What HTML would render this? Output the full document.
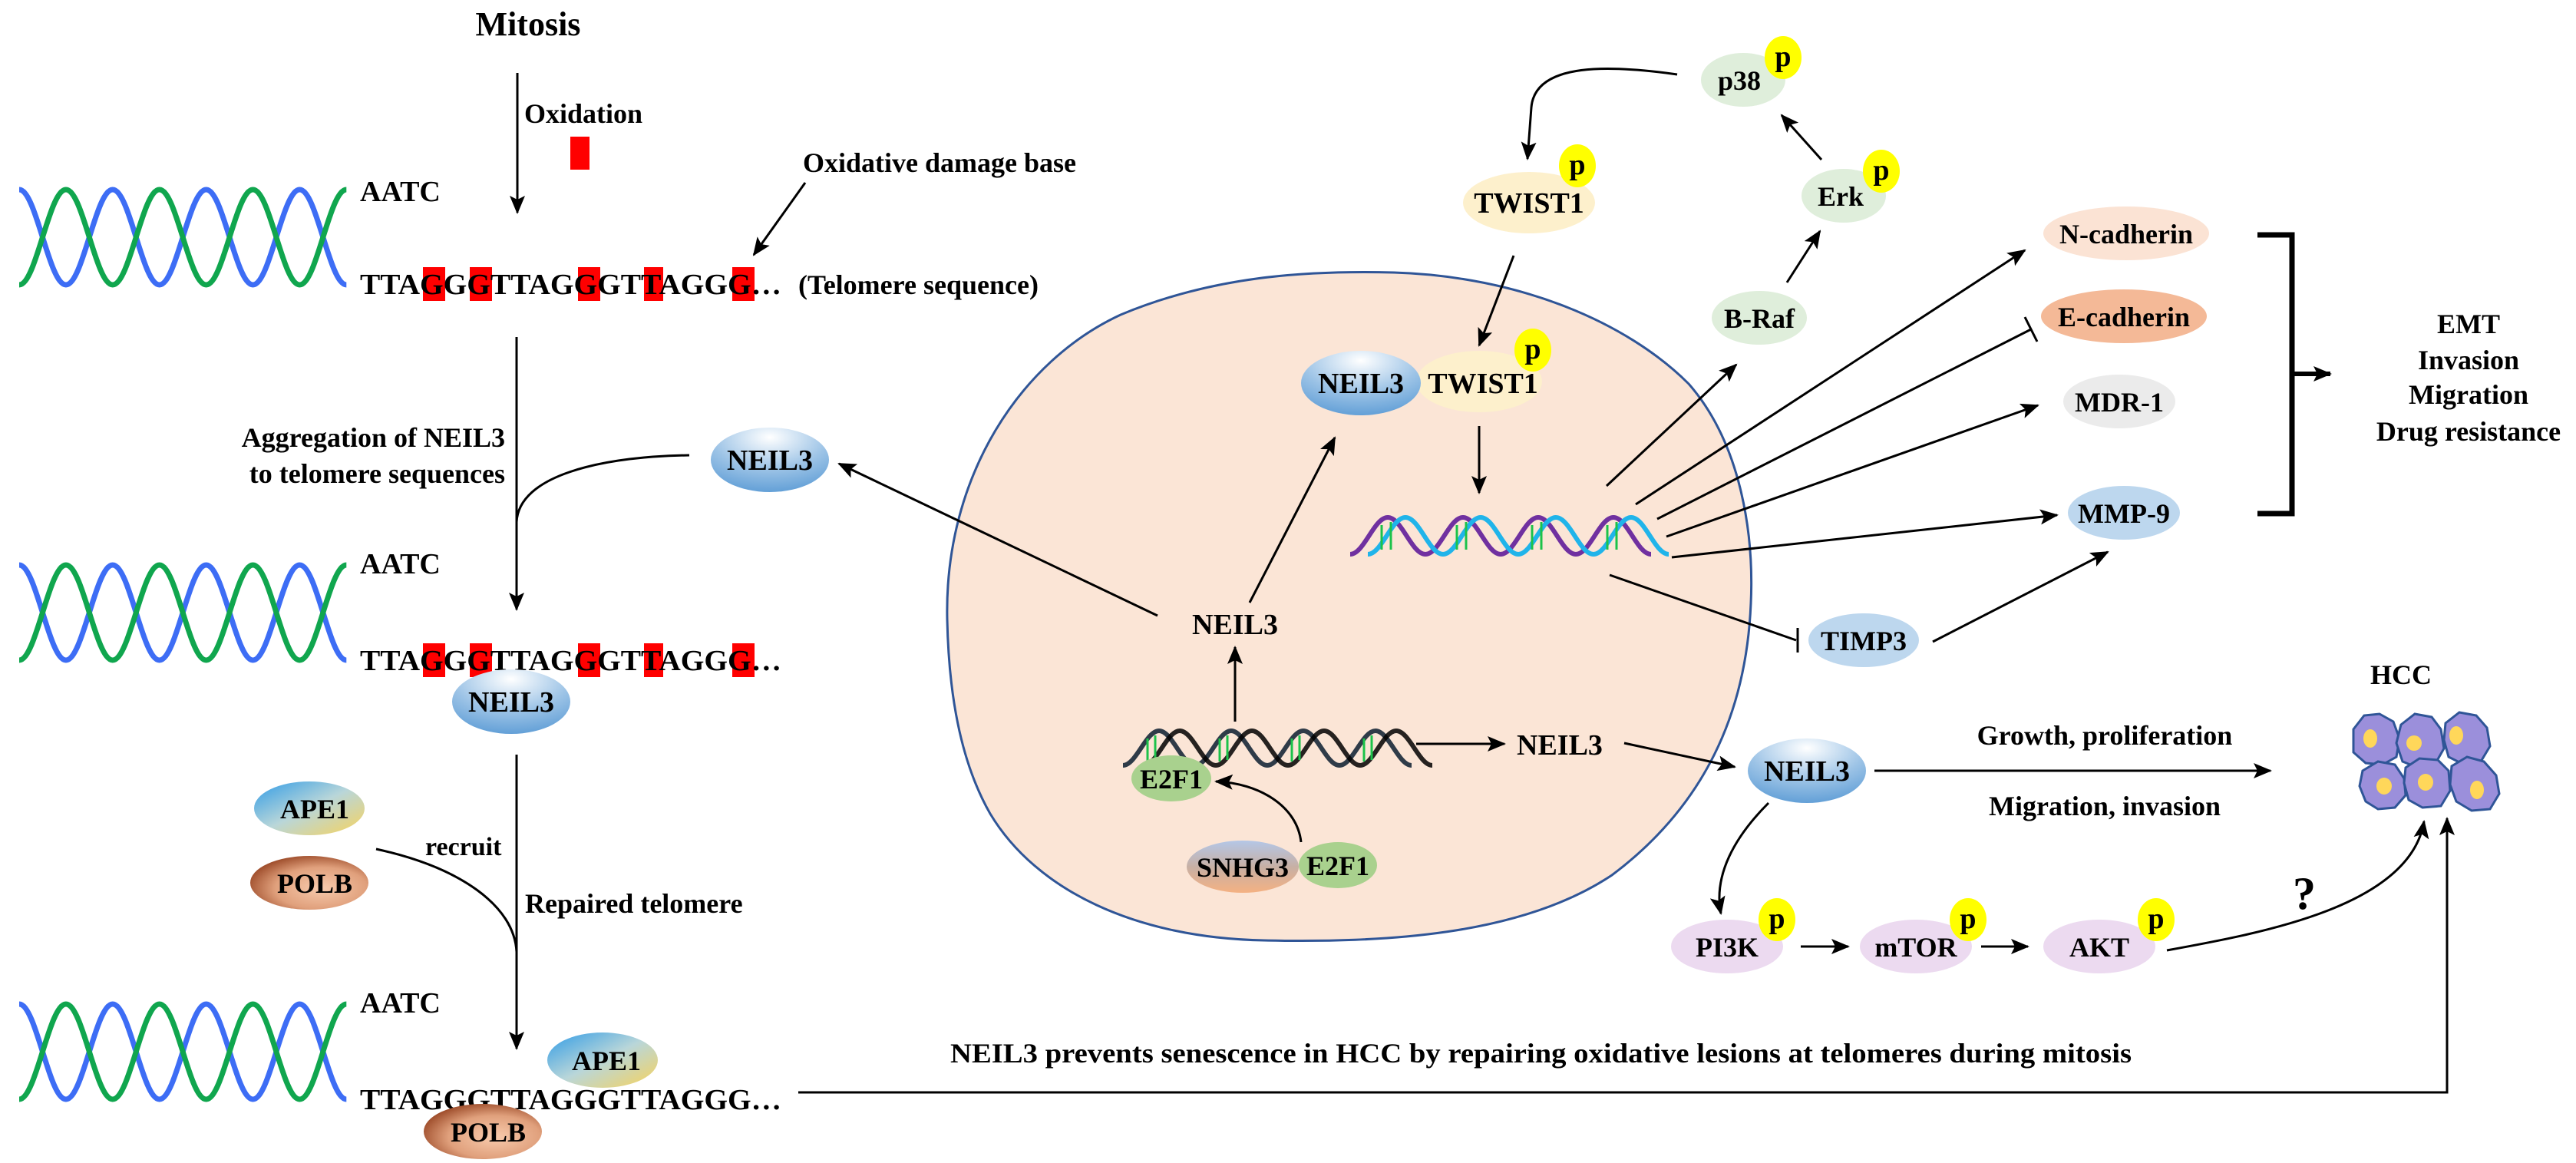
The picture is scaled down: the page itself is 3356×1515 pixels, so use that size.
<!DOCTYPE html>
<html><head><meta charset="utf-8"><style>
html,body{margin:0;padding:0;background:#fff;}
svg{display:block;}
text{font-family:"Liberation Serif",serif;font-weight:bold;fill:#000;}
</style></head><body>
<svg width="3356" height="1515" viewBox="0 0 3356 1515" xmlns="http://www.w3.org/2000/svg">
<defs>
<marker id="a" viewBox="0 0 24 20" refX="22" refY="10" markerWidth="24" markerHeight="20" markerUnits="userSpaceOnUse" orient="auto"><path d="M0,0 L24,10 L0,20 L5,10 z" fill="#000"/></marker>
<radialGradient id="gN" cx="0.5" cy="0.15" r="0.9"><stop offset="0" stop-color="#ffffff"/><stop offset="0.55" stop-color="#9cc3e6"/><stop offset="1" stop-color="#5b9bd5"/></radialGradient>
<linearGradient id="gA" x1="0" y1="0" x2="1" y2="1"><stop offset="0" stop-color="#2f9be6"/><stop offset="0.5" stop-color="#b9d6d9"/><stop offset="1" stop-color="#f8d35a"/></linearGradient>
<radialGradient id="gP" cx="0.6" cy="0.6" r="0.65"><stop offset="0" stop-color="#f8cbad"/><stop offset="0.6" stop-color="#e0a07c"/><stop offset="1" stop-color="#9c4a28"/></radialGradient>
<linearGradient id="gS" x1="0" y1="0" x2="0" y2="1"><stop offset="0" stop-color="#b4c7e7"/><stop offset="0.5" stop-color="#c7b0a5"/><stop offset="1" stop-color="#f4b183"/></linearGradient>
</defs>

<!-- ============ LEFT COLUMN ============ -->
<text x="688" y="46" font-size="44" text-anchor="middle">Mitosis</text>
<line x1="674" y1="95" x2="674" y2="277" stroke="#000" stroke-width="3" marker-end="url(#a)"/>
<text x="683" y="160" font-size="36">Oxidation</text>
<rect x="743" y="178" width="25" height="43" fill="#ff0000"/>
<text x="1046" y="224" font-size="36">Oxidative damage base</text>
<line x1="1049" y1="238" x2="982" y2="332" stroke="#000" stroke-width="3" marker-end="url(#a)"/>

<g fill="none" stroke-width="7">
<path stroke="#3d6df5" d="M25,247 c22.2,0 38.7,124 60.9,124 c22.2,0 38.7,-124 60.9,-124 c22.2,0 38.7,124 60.9,124 c22.2,0 38.7,-124 60.9,-124 c22.2,0 38.7,124 60.9,124 c22.2,0 38.7,-124 60.9,-124 c22.2,0 38.7,124 60.9,124"/>
<path stroke="#10a64e" d="M25,371 c22.2,0 38.7,-124 60.9,-124 c22.2,0 38.7,124 60.9,124 c22.2,0 38.7,-124 60.9,-124 c22.2,0 38.7,124 60.9,124 c22.2,0 38.7,-124 60.9,-124 c22.2,0 38.7,124 60.9,124 c22.2,0 38.7,-124 60.9,-124"/>
</g>
<text x="469" y="262" font-size="38">AATC</text>
<g fill="#ff0000">
<rect x="551" y="348" width="29" height="44"/><rect x="612" y="348" width="29" height="44"/><rect x="753" y="348" width="29" height="44"/><rect x="839" y="348" width="25" height="44"/><rect x="954" y="348" width="29" height="44"/>
</g>
<text x="469" y="383" font-size="38" textLength="549" lengthAdjust="spacingAndGlyphs">TTAGGGTTAGGGTTAGGG…</text>
<text x="1040" y="383" font-size="36">(Telomere sequence)</text>

<line x1="673" y1="439" x2="673" y2="794" stroke="#000" stroke-width="3" marker-end="url(#a)"/>
<text x="658" y="582" font-size="36" text-anchor="end">Aggregation of NEIL3</text>
<text x="658" y="629" font-size="36" text-anchor="end">to telomere sequences</text>
<path d="M898,593 C780,595 676,620 673,680" fill="none" stroke="#000" stroke-width="3"/>
<ellipse cx="1003" cy="599" rx="77" ry="42" fill="url(#gN)"/>
<text x="1003" y="612" font-size="38" text-anchor="middle">NEIL3</text>

<g fill="none" stroke-width="7">
<path stroke="#3d6df5" d="M25,736 c22.2,0 38.7,124 60.9,124 c22.2,0 38.7,-124 60.9,-124 c22.2,0 38.7,124 60.9,124 c22.2,0 38.7,-124 60.9,-124 c22.2,0 38.7,124 60.9,124 c22.2,0 38.7,-124 60.9,-124 c22.2,0 38.7,124 60.9,124"/>
<path stroke="#10a64e" d="M25,860 c22.2,0 38.7,-124 60.9,-124 c22.2,0 38.7,124 60.9,124 c22.2,0 38.7,-124 60.9,-124 c22.2,0 38.7,124 60.9,124 c22.2,0 38.7,-124 60.9,-124 c22.2,0 38.7,124 60.9,124 c22.2,0 38.7,-124 60.9,-124"/>
</g>
<text x="469" y="747" font-size="38">AATC</text>
<g fill="#ff0000">
<rect x="551" y="838" width="29" height="44"/><rect x="612" y="838" width="29" height="44"/><rect x="753" y="838" width="29" height="44"/><rect x="839" y="838" width="25" height="44"/><rect x="954" y="838" width="29" height="44"/>
</g>
<text x="469" y="873" font-size="38" textLength="549" lengthAdjust="spacingAndGlyphs">TTAGGGTTAGGGTTAGGG…</text>
<ellipse cx="666" cy="914" rx="77" ry="42" fill="url(#gN)"/>
<text x="666" y="927" font-size="38" text-anchor="middle">NEIL3</text>

<line x1="673" y1="983" x2="673" y2="1366" stroke="#000" stroke-width="3" marker-end="url(#a)"/>
<ellipse cx="403" cy="1053" rx="72" ry="35" fill="url(#gA)"/>
<text x="410" y="1066" font-size="36" text-anchor="middle">APE1</text>
<ellipse cx="403" cy="1150" rx="77" ry="35" fill="url(#gP)"/>
<text x="410" y="1163" font-size="36" text-anchor="middle">POLB</text>
<text x="554" y="1114" font-size="34">recruit</text>
<path d="M490,1106 C600,1130 670,1180 673,1240" fill="none" stroke="#000" stroke-width="3"/>
<text x="684" y="1189" font-size="36">Repaired telomere</text>

<g fill="none" stroke-width="7">
<path stroke="#3d6df5" d="M25,1308 c22.2,0 38.7,124 60.9,124 c22.2,0 38.7,-124 60.9,-124 c22.2,0 38.7,124 60.9,124 c22.2,0 38.7,-124 60.9,-124 c22.2,0 38.7,124 60.9,124 c22.2,0 38.7,-124 60.9,-124 c22.2,0 38.7,124 60.9,124"/>
<path stroke="#10a64e" d="M25,1432 c22.2,0 38.7,-124 60.9,-124 c22.2,0 38.7,124 60.9,124 c22.2,0 38.7,-124 60.9,-124 c22.2,0 38.7,124 60.9,124 c22.2,0 38.7,-124 60.9,-124 c22.2,0 38.7,124 60.9,124 c22.2,0 38.7,-124 60.9,-124"/>
</g>
<text x="469" y="1319" font-size="38">AATC</text>
<text x="469" y="1445" font-size="38" textLength="549" lengthAdjust="spacingAndGlyphs">TTAGGGTTAGGGTTAGGG…</text>
<ellipse cx="785" cy="1381" rx="72" ry="36" fill="url(#gA)"/>
<text x="790" y="1394" font-size="36" text-anchor="middle">APE1</text>
<ellipse cx="629" cy="1474" rx="77" ry="36" fill="url(#gP)"/>
<text x="636" y="1487" font-size="36" text-anchor="middle">POLB</text>

<polyline points="1040,1423 3188,1423 3188,1066" fill="none" stroke="#000" stroke-width="3" marker-end="url(#a)"/>
<text x="1238" y="1384" font-size="36" textLength="1539" lengthAdjust="spacingAndGlyphs">NEIL3 prevents senescence in HCC by repairing oxidative lesions at telomeres during mitosis</text>

<!-- ============ CELL ============ -->
<path d="M1234,807 C1230,620 1330,470 1460,410 C1580,360 1700,352 1816,355 C1980,360 2120,420 2200,500 C2270,580 2285,700 2281,786 C2275,930 2220,1050 2100,1140 C1980,1220 1800,1228 1647,1225 C1480,1222 1350,1160 1290,1060 C1250,990 1236,900 1234,807Z" fill="#fbe5d6" stroke="#2f5597" stroke-width="3"/>

<line x1="1508" y1="802" x2="1093" y2="604" stroke="#000" stroke-width="3" marker-end="url(#a)"/>
<line x1="1628" y1="785" x2="1739" y2="570" stroke="#000" stroke-width="3" marker-end="url(#a)"/>
<text x="1609" y="826" font-size="38" text-anchor="middle">NEIL3</text>
<line x1="1609" y1="940" x2="1609" y2="843" stroke="#000" stroke-width="3" marker-end="url(#a)"/>

<g fill="none" stroke-width="6">
<path stroke="#2f3b48" d="M1463,997 c17,0 30,-45 47,-45 c17,0 30,45 47,45 c17,0 30,-45 47,-45 c17,0 30,45 47,45 c17,0 30,-45 47,-45 c17,0 30,45 47,45 c17,0 30,-45 47,-45 c17,0 30,45 47,45"/>
<path stroke="#000" d="M1490,997 c17,0 30,-45 47,-45 c17,0 30,45 47,45 c17,0 30,-45 47,-45 c17,0 30,45 47,45 c17,0 30,-45 47,-45 c17,0 30,45 47,45 c17,0 30,-45 47,-45 c17,0 30,45 47,45" opacity="0.85"/>
</g>
<g stroke="#1cc24a" stroke-width="3">
<line x1="1495" y1="962" x2="1495" y2="992"/><line x1="1505" y1="958" x2="1505" y2="990"/><line x1="1589" y1="962" x2="1589" y2="992"/><line x1="1599" y1="958" x2="1599" y2="990"/><line x1="1683" y1="962" x2="1683" y2="992"/><line x1="1693" y1="958" x2="1693" y2="990"/><line x1="1777" y1="962" x2="1777" y2="992"/><line x1="1787" y1="958" x2="1787" y2="990"/>
</g>
<ellipse cx="1526" cy="1014" rx="52" ry="30" fill="#a9d18e"/>
<text x="1526" y="1027" font-size="36" text-anchor="middle">E2F1</text>
<line x1="1845" y1="969" x2="1960" y2="969" stroke="#000" stroke-width="3" marker-end="url(#a)"/>
<text x="1976" y="983" font-size="38">NEIL3</text>
<line x1="2116" y1="968" x2="2260" y2="999" stroke="#000" stroke-width="3" marker-end="url(#a)"/>
<path d="M1695,1097 C1690,1050 1640,1020 1584,1018" fill="none" stroke="#000" stroke-width="3" marker-end="url(#a)"/>
<ellipse cx="1619" cy="1129" rx="73" ry="34" fill="url(#gS)"/>
<text x="1619" y="1142" font-size="36" text-anchor="middle">SNHG3</text>
<ellipse cx="1743" cy="1127" rx="51" ry="30" fill="#a9d18e"/>
<text x="1743" y="1140" font-size="36" text-anchor="middle">E2F1</text>

<ellipse cx="1927" cy="497" rx="82" ry="40" fill="#fdf0cc"/>
<ellipse cx="1773" cy="499" rx="78" ry="42" fill="url(#gN)"/>
<text x="1773" y="512" font-size="38" text-anchor="middle">NEIL3</text>
<text x="1932" y="512" font-size="38" text-anchor="middle">TWIST1</text>
<ellipse cx="1997" cy="456" rx="24" ry="28" fill="#ffff00"/>
<text x="1997" y="467" font-size="38" text-anchor="middle">p</text>
<line x1="1927" y1="555" x2="1927" y2="642" stroke="#000" stroke-width="3" marker-end="url(#a)"/>

<g fill="none" stroke-width="6">
<path stroke="#7030a0" d="M1759,722 c18,0 31,-48 49,-48 c18,0 31,48 49,48 c18,0 31,-48 49,-48 c18,0 31,48 49,48 c18,0 31,-48 49,-48 c18,0 31,48 49,48 c18,0 31,-48 49,-48 c18,0 31,48 49,48"/>
<path stroke="#20b4ea" d="M1782,722 c18,0 31,-48 49,-48 c18,0 31,48 49,48 c18,0 31,-48 49,-48 c18,0 31,48 49,48 c18,0 31,-48 49,-48 c18,0 31,48 49,48 c18,0 31,-48 49,-48 c18,0 31,48 49,48"/>
</g>
<g stroke="#1cc24a" stroke-width="3">
<line x1="1800" y1="684" x2="1800" y2="716"/><line x1="1812" y1="680" x2="1812" y2="716"/><line x1="1898" y1="684" x2="1898" y2="716"/><line x1="1910" y1="680" x2="1910" y2="716"/><line x1="1996" y1="684" x2="1996" y2="716"/><line x1="2008" y1="680" x2="2008" y2="716"/><line x1="2094" y1="684" x2="2094" y2="716"/><line x1="2106" y1="680" x2="2106" y2="716"/>
</g>

<ellipse cx="1992" cy="264" rx="86" ry="40" fill="#fdf0cc"/>
<text x="1992" y="277" font-size="38" text-anchor="middle">TWIST1</text>
<ellipse cx="2055" cy="216" rx="24" ry="28" fill="#ffff00"/>
<text x="2055" y="227" font-size="38" text-anchor="middle">p</text>
<path d="M2185,97 C2100,85 2000,80 1995,140 L1990,207" fill="none" stroke="#000" stroke-width="3" marker-end="url(#a)"/>
<line x1="1972" y1="333" x2="1927" y2="450" stroke="#000" stroke-width="3" marker-end="url(#a)"/>

<ellipse cx="2271" cy="104" rx="55" ry="35" fill="#dfeedb"/>
<text x="2266" y="117" font-size="36" text-anchor="middle">p38</text>
<ellipse cx="2323" cy="75" rx="24" ry="28" fill="#ffff00"/>
<text x="2323" y="86" font-size="38" text-anchor="middle">p</text>
<line x1="2373" y1="208" x2="2321" y2="150" stroke="#000" stroke-width="3" marker-end="url(#a)"/>
<ellipse cx="2402" cy="255" rx="55" ry="35" fill="#dfeedb"/>
<text x="2398" y="268" font-size="36" text-anchor="middle">Erk</text>
<ellipse cx="2451" cy="223" rx="24" ry="28" fill="#ffff00"/>
<text x="2451" y="234" font-size="38" text-anchor="middle">p</text>
<line x1="2328" y1="368" x2="2371" y2="301" stroke="#000" stroke-width="3" marker-end="url(#a)"/>
<ellipse cx="2292" cy="414" rx="62" ry="35" fill="#dfeedb"/>
<text x="2292" y="427" font-size="36" text-anchor="middle">B-Raf</text>

<line x1="2093" y1="633" x2="2262" y2="475" stroke="#000" stroke-width="3" marker-end="url(#a)"/>
<line x1="2131" y1="657" x2="2638" y2="326" stroke="#000" stroke-width="3" marker-end="url(#a)"/>
<line x1="2159" y1="676" x2="2646" y2="429" stroke="#000" stroke-width="3"/>
<line x1="2638" y1="413" x2="2654" y2="445" stroke="#000" stroke-width="3"/>
<line x1="2171" y1="699" x2="2655" y2="528" stroke="#000" stroke-width="3" marker-end="url(#a)"/>
<line x1="2178" y1="726" x2="2680" y2="671" stroke="#000" stroke-width="3" marker-end="url(#a)"/>
<line x1="2097" y1="749" x2="2340" y2="834" stroke="#000" stroke-width="3"/>
<line x1="2342" y1="818" x2="2342" y2="850" stroke="#000" stroke-width="3"/>

<ellipse cx="2770" cy="304" rx="108" ry="35" fill="#fbe3d4"/>
<text x="2770" y="317" font-size="36" text-anchor="middle">N-cadherin</text>
<ellipse cx="2767" cy="412" rx="108" ry="35" fill="#f4b997"/>
<text x="2767" y="425" font-size="36" text-anchor="middle">E-cadherin</text>
<ellipse cx="2761" cy="523" rx="73" ry="35" fill="#ebebeb"/>
<text x="2761" y="536" font-size="36" text-anchor="middle">MDR-1</text>
<ellipse cx="2767" cy="668" rx="73" ry="35" fill="#bdd7ee"/>
<text x="2767" y="681" font-size="36" text-anchor="middle">MMP-9</text>

<polyline points="2941,306 2986,306 2986,669 2941,669" fill="none" stroke="#000" stroke-width="7"/>
<line x1="2986" y1="487" x2="3036" y2="487" stroke="#000" stroke-width="6" marker-end="url(#a)"/>
<text x="3216" y="434" font-size="36" text-anchor="middle">EMT</text>
<text x="3216" y="481" font-size="36" text-anchor="middle">Invasion</text>
<text x="3216" y="526" font-size="36" text-anchor="middle">Migration</text>
<text x="3216" y="574" font-size="36" text-anchor="middle">Drug resistance</text>

<ellipse cx="2428" cy="834" rx="72" ry="35" fill="#bdd7ee"/>
<text x="2428" y="847" font-size="36" text-anchor="middle">TIMP3</text>
<line x1="2518" y1="836" x2="2746" y2="719" stroke="#000" stroke-width="3" marker-end="url(#a)"/>

<ellipse cx="2354" cy="1004" rx="77" ry="42" fill="url(#gN)"/>
<text x="2354" y="1017" font-size="38" text-anchor="middle">NEIL3</text>
<line x1="2442" y1="1004" x2="2958" y2="1004" stroke="#000" stroke-width="3" marker-end="url(#a)"/>
<text x="2742" y="970" font-size="36" text-anchor="middle">Growth, proliferation</text>
<text x="2742" y="1062" font-size="36" text-anchor="middle">Migration, invasion</text>
<path d="M2304,1046 C2260,1090 2232,1140 2242,1190" fill="none" stroke="#000" stroke-width="3" marker-end="url(#a)"/>

<ellipse cx="2250" cy="1233" rx="73" ry="35" fill="#ecdaf0"/>
<text x="2250" y="1246" font-size="36" text-anchor="middle">PI3K</text>
<ellipse cx="2315" cy="1198" rx="24" ry="28" fill="#ffff00"/>
<text x="2315" y="1209" font-size="38" text-anchor="middle">p</text>
<line x1="2346" y1="1233" x2="2408" y2="1233" stroke="#000" stroke-width="3" marker-end="url(#a)"/>
<ellipse cx="2496" cy="1233" rx="73" ry="35" fill="#ecdaf0"/>
<text x="2496" y="1246" font-size="36" text-anchor="middle">mTOR</text>
<ellipse cx="2564" cy="1198" rx="24" ry="28" fill="#ffff00"/>
<text x="2564" y="1209" font-size="38" text-anchor="middle">p</text>
<line x1="2581" y1="1233" x2="2642" y2="1233" stroke="#000" stroke-width="3" marker-end="url(#a)"/>
<ellipse cx="2735" cy="1233" rx="73" ry="35" fill="#ecdaf0"/>
<text x="2735" y="1246" font-size="36" text-anchor="middle">AKT</text>
<ellipse cx="2809" cy="1198" rx="24" ry="28" fill="#ffff00"/>
<text x="2809" y="1209" font-size="38" text-anchor="middle">p</text>
<path d="M2823,1238 C2950,1215 3140,1180 3158,1070" fill="none" stroke="#000" stroke-width="3" marker-end="url(#a)"/>
<text x="3002" y="1184" font-size="60" text-anchor="middle">?</text>

<text x="3128" y="891" font-size="36" text-anchor="middle">HCC</text>
<g stroke="#2f5597" stroke-width="3" fill="#9b8fdb">
<path d="M3066,950 L3080,932 L3100,930 L3118,940 L3126,962 L3122,986 L3104,996 L3082,994 L3066,980 Z"/>
<path d="M3128,944 L3146,930 L3168,934 L3180,950 L3184,975 L3172,996 L3150,1000 L3130,992 L3122,968 Z"/>
<path d="M3186,942 L3204,928 L3226,932 L3240,948 L3244,972 L3232,992 L3210,996 L3190,986 L3184,964 Z"/>
<path d="M3078,1004 L3098,992 L3120,996 L3132,1014 L3134,1036 L3120,1052 L3098,1054 L3082,1044 L3074,1024 Z"/>
<path d="M3134,1000 L3152,988 L3176,990 L3190,1004 L3192,1030 L3180,1050 L3156,1052 L3138,1042 L3132,1020 Z"/>
<path d="M3194,998 L3214,986 L3236,992 L3252,1010 L3256,1034 L3244,1054 L3220,1056 L3200,1044 L3192,1022 Z"/>
</g>
<g fill="#ffd75a">
<ellipse cx="3088" cy="962" rx="9" ry="12"/><ellipse cx="3145" cy="968" rx="10" ry="10"/><ellipse cx="3200" cy="958" rx="9" ry="12"/>
<ellipse cx="3106" cy="1024" rx="10" ry="11"/><ellipse cx="3160" cy="1019" rx="10" ry="11"/><ellipse cx="3227" cy="1029" rx="9" ry="12"/>
</g>
</svg>
</body></html>
